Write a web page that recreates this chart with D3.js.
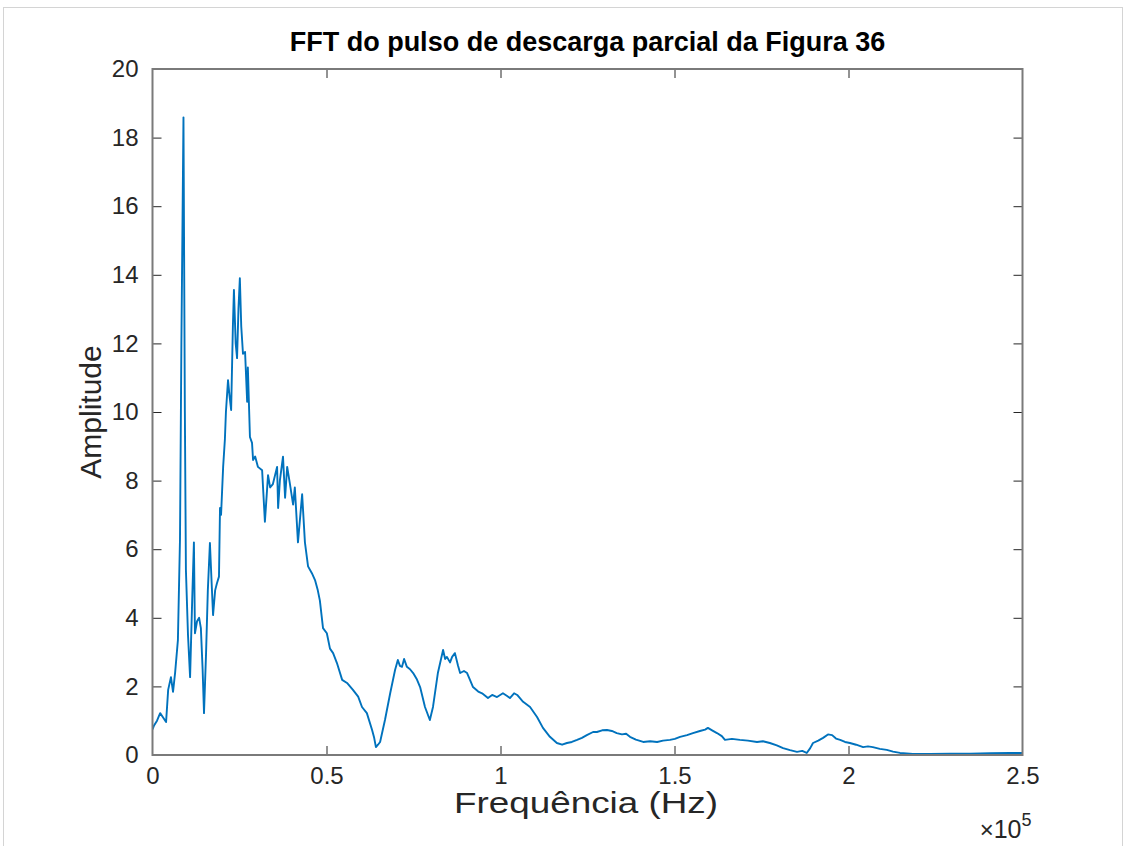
<!DOCTYPE html>
<html>
<head>
<meta charset="utf-8">
<script src="https://cdn.jsdelivr.net/npm/d3@7"></script>
<style>
  html, body { margin: 0; padding: 0; background: #fff; }
  svg { display: block; font-family: "Liberation Sans", Arial, Helvetica, sans-serif; }
</style>
</head>
<body>
<svg id="chart" width="1124" height="846"></svg>
<script>
// Frequency samples (Hz) and FFT magnitude of the partial-discharge pulse
const freqHz = [
  0, 400, 1300, 2200, 3000, 3900, 4500, 5300, 5900, 6500, 7300, 7900, 8300, 8900, 9300, 9600,
  10200, 10800, 11400, 11900, 12200, 12800, 13400, 13900, 14400, 14800, 15400, 15900, 16500,
  17000, 17400, 18000, 18500, 19100, 19400, 19700, 20300, 20800, 21100, 21700, 22100, 22600,
  23100, 23400, 23900, 24300, 24700, 25100, 25500, 26000, 26600, 27200, 27400, 28000, 28600,
  28900, 29500, 30300, 31500, 32300, 33200, 33800, 34600, 35800, 36100, 36600, 37500, 38100,
  38700, 39500, 40400, 40900, 41800, 43000, 43800, 44700, 45800, 46700, 47500, 48100, 49000,
  50100, 51000, 51900, 53000, 54500, 55900, 57600, 59100, 60200, 61600, 63100, 63700, 64200,
  64800, 65400, 66800, 68300, 69700, 70500, 71100, 71700, 72300, 73100, 74000, 74900, 76000,
  76900, 78300, 79700, 80600, 82000, 83500, 84100, 84600, 85500, 86100, 86900, 87800, 88400,
  89500, 90400, 91200, 92100, 93600, 94700, 96400, 97600, 99000, 100700, 101900, 102700,
  103900, 104800, 106500, 108500, 110500, 112200, 114200, 116200, 117700, 119100, 120500,
  122000, 123400, 124800, 126600, 127700, 129200, 130600, 132000, 133400, 134900, 136100,
  137200, 138900, 141000, 143000, 145000, 146700, 148700, 150100, 151600, 153600, 155300,
  157300, 158800, 159600, 160800, 162200, 163600, 164500, 166500, 168800, 171100, 173700,
  175400, 177400, 179400, 181200, 183200, 185200, 186700, 188000, 189000, 189800, 191300,
  192700, 194100, 195300, 196400, 197600, 199000, 200400, 202200, 204200, 205600, 207000,
  209000, 211000, 212800, 214800, 218500, 223400, 229200, 234900, 240700, 246400, 250000
];
const amplitude = [
  0.75, 0.85, 1.0, 1.22, 1.1, 0.96, 1.9, 2.27, 1.84, 2.4, 3.35, 6.3, 12.0, 18.59, 10.0, 5.4,
  3.5, 2.27, 4.5, 6.2, 3.55, 3.9, 4.0, 3.7, 2.5, 1.22, 3.0, 4.8, 6.18,
  5.0, 4.08, 4.8, 5.0, 5.2, 7.2, 7.0, 8.4, 9.2, 10.0, 10.93, 10.5, 10.06,
  12.5, 13.56, 12.0, 11.57, 13.0, 13.9, 12.5, 11.7, 11.75, 10.3, 11.3, 9.27, 9.1,
  8.6, 8.7, 8.4, 8.3, 6.8, 8.16, 7.8, 7.9, 8.4, 7.2, 8.0, 8.7, 7.5,
  8.4, 7.9, 7.3, 7.8, 6.2, 7.6, 6.2, 5.5, 5.3, 5.1, 4.8, 4.5, 3.7,
  3.55, 3.1, 2.97, 2.68, 2.19, 2.1, 1.9, 1.7, 1.4, 1.22, 0.73, 0.5, 0.23,
  0.3, 0.38, 1.02, 1.8, 2.48, 2.77, 2.6, 2.57, 2.8, 2.57, 2.5, 2.39, 2.2,
  1.98, 1.4, 1.02, 1.4, 2.39, 3.06, 2.8, 2.86, 2.7, 2.86, 2.97, 2.6, 2.39,
  2.45, 2.39, 2.2, 1.98, 1.85, 1.8, 1.66, 1.75, 1.69, 1.8, 1.72, 1.66,
  1.8, 1.75, 1.55, 1.4, 1.11, 0.79, 0.53, 0.35, 0.3, 0.35, 0.38,
  0.44, 0.5, 0.58, 0.67, 0.67, 0.72, 0.73, 0.7, 0.64, 0.6, 0.62,
  0.53, 0.45, 0.38, 0.4, 0.38, 0.42, 0.44, 0.47, 0.53, 0.58, 0.64,
  0.7, 0.74, 0.79, 0.72, 0.64, 0.55, 0.44, 0.47, 0.44, 0.42, 0.38,
  0.4, 0.35, 0.28, 0.2, 0.14, 0.09, 0.12, 0.06, 0.2, 0.35, 0.42,
  0.5, 0.6, 0.58, 0.48, 0.44, 0.38, 0.35, 0.3, 0.23, 0.25, 0.23,
  0.18, 0.15, 0.1, 0.06, 0.03, 0.03, 0.04, 0.04, 0.05, 0.06, 0.06
];
const xTicks = [0, 50000, 100000, 150000, 200000, 250000];
const yTicks = [0, 2, 4, 6, 8, 10, 12, 14, 16, 18, 20];
const titleText = "FFT do pulso de descarga parcial da Figura 36";
const xLabelText = "Frequência (Hz)";
const yLabelText = "Amplitude";

const svg = d3.select("#chart");
const W = 1124, H = 846;
const plot = { left: 152.5, top: 69, right: 1022.5, bottom: 755 };

// page frame
svg.append("rect")
  .attr("x", 3.5).attr("y", 7.5).attr("width", W - 5).attr("height", H - 6)
  .attr("fill", "#fff").attr("stroke", "#d4d4d4").attr("stroke-width", 1);

const x = d3.scaleLinear().domain([0, 250000]).range([plot.left, plot.right]);
const y = d3.scaleLinear().domain([0, 20]).range([plot.bottom, plot.top]);

const tickColor = "#262626";
const axisColor = "#7a7a7a";
const tickLen = 9;

// clip for the line
svg.append("clipPath").attr("id", "plotclip")
  .append("rect").attr("x", plot.left).attr("y", plot.top)
  .attr("width", plot.right - plot.left).attr("height", plot.bottom - plot.top);

// data line
const pts = freqHz.map((f, i) => [f, amplitude[i]]);
svg.append("path")
  .datum(pts)
  .attr("clip-path", "url(#plotclip)")
  .attr("fill", "none")
  .attr("stroke", "#0072BD")
  .attr("stroke-width", 1.9)
  .attr("stroke-linejoin", "round")
  .attr("d", d3.line().x(d => x(d[0])).y(d => y(d[1])));

// axes (MATLAB-style box with inward ticks on all sides)
const fmtX = d => d === 0 ? "0" : String(+(d / 1e5).toFixed(1));
const bottomAxis = d3.axisBottom(x).tickValues(xTicks).tickSize(-tickLen).tickPadding(12).tickFormat(fmtX);
const topAxis = d3.axisTop(x).tickValues(xTicks).tickSize(-tickLen).tickFormat("");
const leftAxis = d3.axisLeft(y).tickValues(yTicks).tickSize(-tickLen).tickPadding(14).tickFormat(d3.format("d"));
const rightAxis = d3.axisRight(y).tickValues(yTicks).tickSize(-tickLen).tickFormat("");

function styleAxis(g) {
  g.select(".domain").remove();
  g.selectAll(".tick line").attr("stroke", tickColor).attr("stroke-width", 1);
  g.selectAll(".tick text").attr("fill", tickColor)
    .style("font-family", "'Liberation Sans', Arial, sans-serif").style("font-size", "24px");
}

svg.append("g").attr("transform", `translate(0,${plot.bottom})`).call(bottomAxis).call(styleAxis);
svg.append("g").attr("transform", `translate(0,${plot.top})`).call(topAxis).call(styleAxis);
svg.append("g").attr("transform", `translate(${plot.left},0)`).call(leftAxis).call(styleAxis);
svg.append("g").attr("transform", `translate(${plot.right},0)`).call(rightAxis).call(styleAxis);

// hide the tick marks that sit on the box corners
svg.selectAll(".tick line").filter(function () {
  const d = d3.select(this.parentNode).datum();
  return d === 0 || d === 20 || d === 250000;
}).attr("opacity", 0);

// box outline
svg.append("rect")
  .attr("x", plot.left).attr("y", plot.top)
  .attr("width", plot.right - plot.left).attr("height", plot.bottom - plot.top)
  .attr("fill", "none").attr("stroke", axisColor).attr("stroke-width", 2);

// title
svg.append("text")
  .attr("x", (plot.left + plot.right) / 2).attr("y", 51)
  .attr("text-anchor", "middle")
  .style("font-size", "27px").style("font-weight", "bold").attr("fill", "#000")
  .text(titleText);

// axis labels
svg.append("text")
  .attr("x", 586).attr("y", 813)
  .attr("text-anchor", "middle")
  .attr("textLength", 264).attr("lengthAdjust", "spacingAndGlyphs")
  .style("font-size", "29px").attr("fill", tickColor)
  .text(xLabelText);

svg.append("text")
  .attr("transform", `translate(101,${(plot.top + plot.bottom) / 2}) rotate(-90)`)
  .attr("text-anchor", "middle")
  .style("font-size", "30px").attr("fill", tickColor)
  .text(yLabelText);

// exponent marker for the frequency axis
const expo = svg.append("text")
  .attr("x", plot.right + 9).attr("y", 838)
  .attr("text-anchor", "end")
  .attr("fill", tickColor);
expo.append("tspan").style("font-size", "24px").text("\u00d7");
expo.append("tspan").style("font-size", "25px").text("10");
expo.append("tspan").style("font-size", "18px").attr("dy", -12).text("5");
</script>
</body>
</html>
